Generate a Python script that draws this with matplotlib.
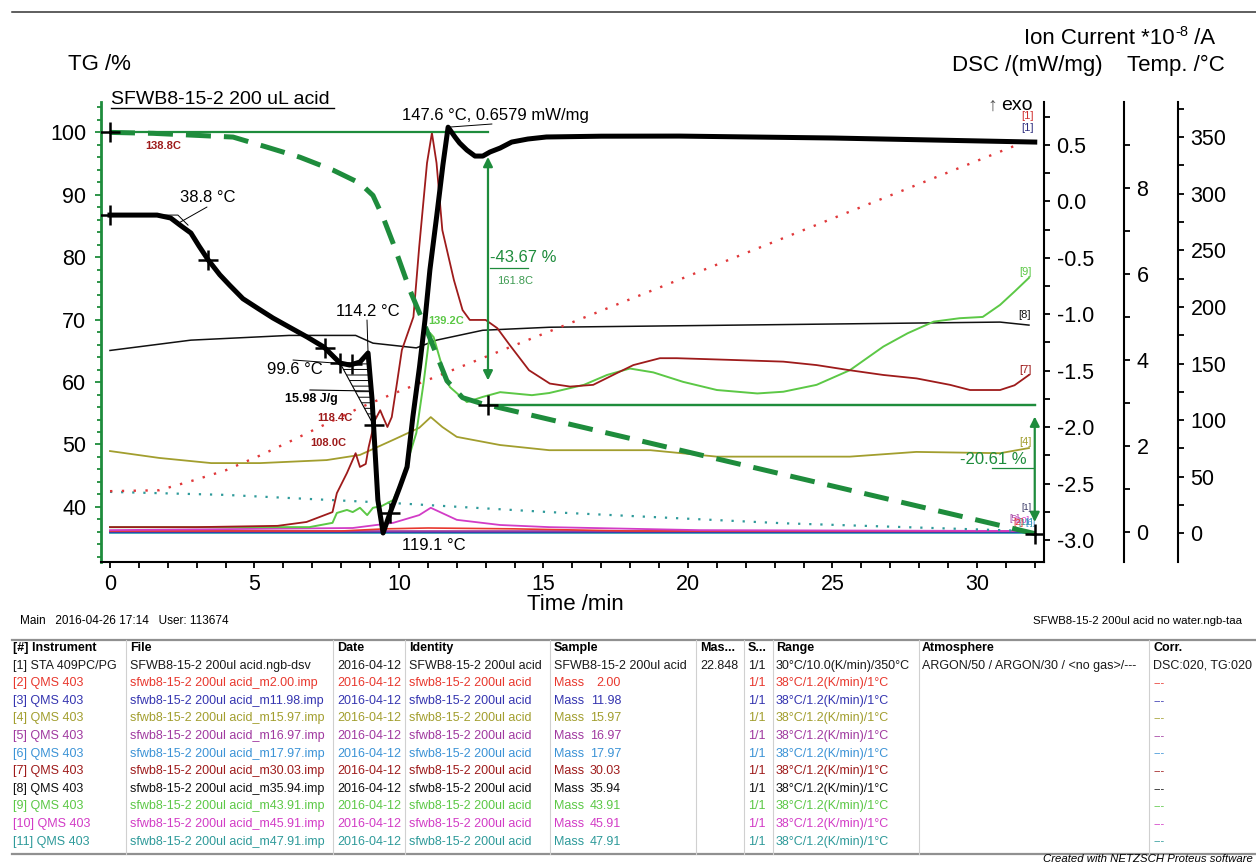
import numpy as np
import matplotlib.pyplot as plt
from matplotlib.lines import Line2D
from matplotlib.patches import Polygon
from matplotlib.ticker import MultipleLocator, FixedLocator, FormatStrFormatter

plt.rcParams['font.family'] = ['Liberation Sans', 'DejaVu Sans']
plt.rcParams['axes.unicode_minus'] = False
plt.rcParams['hatch.linewidth'] = 0.7

W, H = 1256, 865

# ---- TG (%) ----
tg_t = [0, 1.5, 2.66, 4.26, 5.43, 6.57, 7.72, 8.65, 9.1, 9.45, 9.8, 10.38, 10.97, 11.66, 12.2,
        12.9, 13.08, 32.0]
tg = [100, 99.85, 99.6, 99.25, 97.64, 96.03, 93.95, 91.86, 89.9, 86.4, 82.2, 74.7, 68.2, 60.2,
      57.5, 56.5, 56.33, 35.72]
step_t = [0, 13.08, 32.0]
step_dm = [-43.67, -20.61]
step_temp = ['161.8C', '']

# ---- DSC (mW/mg) ----
dsc_t = [0, 1.0, 1.63, 2.1, 2.42, 2.8, 3.08, 3.4, 3.8, 4.15, 4.6, 5.1, 5.64, 6.2, 6.82, 7.4,
         7.96, 8.3, 8.65, 8.93, 9.07, 9.17, 9.27, 9.45, 9.69, 10.03, 10.28, 10.48, 10.71, 10.9,
         11.07, 11.31, 11.52, 11.7, 11.94, 12.1, 12.35, 12.63, 12.9, 13.15, 13.5, 13.9, 14.46,
         15.1, 17.0, 19.7, 25.0, 32.0]
dsc = [-0.121, -0.121, -0.121, -0.147, -0.209, -0.280, -0.395, -0.519, -0.650, -0.745, -0.862,
       -0.945, -1.033, -1.113, -1.201, -1.290, -1.432, -1.450, -1.423, -1.343, -1.759, -2.203,
       -2.646, -2.938, -2.761, -2.53, -2.353, -1.910, -1.467, -1.051, -0.607, -0.121, 0.323,
       0.6579, 0.57, 0.517, 0.455, 0.402, 0.402, 0.438, 0.473, 0.526, 0.553, 0.571, 0.578,
       0.579, 0.562, 0.526]
dsc_marks = [0, 3.4, 7.44, 7.96, 8.37, 9.12, 9.69]
peak_area = (7.96, 9.12)

# ---- furnace temperature (°C) ----
temp_t = [0, 1.7, 2.9, 4.0, 5.2, 6.3, 7.5, 8.65, 9.8, 31.8]
temp = [37.2, 38.0, 46.8, 55.6, 68.8, 82.0, 96.9, 111.0, 123.3, 347.4]

# ---- QMS ion currents (*1e-8 A) ----
ms7_t = [0, 3, 5.8, 6.8, 7.7, 7.85, 8.2, 8.5, 8.65, 8.85, 8.95, 9.17, 9.35, 9.45, 9.6, 9.75,
         9.93, 10.1, 10.5, 10.7, 10.97, 11.14, 11.3, 11.5, 11.9, 12.2, 12.45, 13.0, 13.4, 13.84,
         14.5, 15.22, 15.92, 16.72, 17.53, 18.11, 19.03, 19.61, 21.5, 23.3, 24.45, 25.6, 26.76,
         27.91, 29.07, 29.76, 30.8, 31.3, 31.8]
ms7 = [0.12, 0.12, 0.15, 0.24, 0.47, 0.91, 1.38, 1.84, 1.52, 1.59, 1.98, 2.61, 2.84, 2.68, 2.45,
       2.68, 3.47, 4.24, 5.01, 6.64, 8.59, 9.29, 8.59, 7.03, 5.87, 5.17, 4.94, 4.94, 4.75, 4.35,
       3.77, 3.46, 3.39, 3.43, 3.70, 3.89, 4.05, 4.05, 4.01, 3.97, 3.89, 3.77, 3.66, 3.58, 3.43,
       3.31, 3.31, 3.42, 3.66]
ms9_t = [0, 6.9, 7.7, 7.85, 8.2, 8.4, 8.65, 8.9, 9.1, 9.4, 9.8, 10.1, 10.6, 10.85, 11.07, 11.2,
         11.5, 11.76, 12.35, 12.9, 13.5, 14.6, 15.2, 16.4, 17.2, 17.99, 18.8, 19.83, 21.0, 22.4,
         23.3, 24.45, 25.6, 26.76, 27.6, 28.5, 29.4, 30.2, 30.8, 31.3, 31.8]
ms9 = [0.12, 0.12, 0.22, 0.45, 0.52, 0.47, 0.57, 0.40, 0.57, 0.61, 0.75, 1.22, 2.31, 3.47, 4.64,
       4.54, 3.84, 3.38, 3.03, 3.15, 3.26, 3.19, 3.24, 3.43, 3.66, 3.81, 3.72, 3.50, 3.31, 3.23,
       3.27, 3.43, 3.77, 4.32, 4.63, 4.90, 4.98, 5.01, 5.29, 5.60, 5.92]
ms4_t = [0, 1.7, 3.5, 5.2, 7.5, 8.65, 9.8, 10.7, 11.1, 11.5, 12.0, 13.5, 15.2, 18.7, 21.0, 25.6,
         27.9, 30.8, 31.8]
ms4 = [1.89, 1.73, 1.61, 1.61, 1.68, 1.80, 2.15, 2.43, 2.68, 2.45, 2.22, 2.03, 1.91, 1.91, 1.76,
       1.76, 1.87, 1.84, 1.96]
ms8_t = [0, 2.8, 6.2, 8.5, 9.1, 10.6, 11.3, 12.9, 15.2, 30.8, 31.8]
ms8 = [4.23, 4.47, 4.58, 4.58, 4.40, 4.29, 4.47, 4.70, 4.77, 4.89, 4.82]
ms10_t = [0, 8.4, 9.8, 10.7, 11.1, 12.0, 13.5, 15.2, 20.4, 31.8]
ms10 = [0.05, 0.10, 0.22, 0.40, 0.57, 0.29, 0.17, 0.12, 0.05, 0.03]
ms11_t = [0, 4.0, 9.8, 15.2, 23.3, 30.8, 31.8]
ms11 = [0.94, 0.87, 0.68, 0.47, 0.21, 0.05, 0.03]
ms2_t = [0, 8.0, 9.5, 11.0, 14.0, 18.0, 31.8]
ms2 = [0.03, 0.03, 0.08, 0.10, 0.08, 0.03, 0.03]
flat_t = [0, 31.8]
ms3 = [0.01, 0.01]
ms5 = [0.03, 0.03]
ms6 = [-0.02, -0.02]

masses = ['2.00', '11.98', '15.97', '16.97', '17.97', '30.03', '35.94', '43.91', '45.91', '47.91']
colors = {1: '#1a1a1a', 2: '#e8382e', 3: '#3535b0', 4: '#a29e2e', 5: '#a03aa0', 6: '#3c93d6',
          7: '#9e1b1b', 8: '#111111', 9: '#5cc846', 10: '#d23cc6', 11: '#2e9a9a'}
green = '#1e8c3c'

fig = plt.figure(figsize=(W / 100, H / 100), dpi=100)


def ftext(x, y, s, **kw):
    kw.setdefault('va', 'center')
    return fig.text(x / W, 1 - y / H, s, **kw)


def fline(xs, ys, **kw):
    fig.add_artist(Line2D([x / W for x in xs], [1 - y / H for y in ys],
                          transform=fig.transFigure, **kw))


L, R, T, B = 101, 1044, 102, 562
ax = fig.add_axes([L / W, 1 - B / H, (R - L) / W, (B - T) / H])
ax_dsc = ax.twinx()
ax_ion = ax.twinx()
ax_tmp = ax.twinx()
ax_ion.set_zorder(1)
ax_tmp.set_zorder(2)
ax.set_zorder(3)
ax_dsc.set_zorder(4)
ax.patch.set_visible(False)

ax.set_xlim(-0.311, 32.32)
ax.set_ylim(31.17, 104.87)
ax_dsc.set_ylim(-3.195, 0.881)
ax_ion.set_ylim(-0.691, 10.01)
ax_tmp.set_ylim(-25.4, 381.1)

for a in (ax_dsc, ax_ion, ax_tmp):
    for s in ('left', 'top', 'bottom'):
        a.spines[s].set_visible(False)
    a.spines['right'].set_linewidth(1.5)
ax.spines['top'].set_visible(False)
ax.spines['right'].set_visible(False)
ax.spines['left'].set_color(green)
ax.spines['left'].set_linewidth(2)
ax.spines['bottom'].set_linewidth(1.5)
ax_ion.spines['right'].set_position(('axes', (1124 - L) / (R - L)))
ax_tmp.spines['right'].set_position(('axes', (1178 - L) / (R - L)))

ax.xaxis.set_major_locator(MultipleLocator(5))
ax.xaxis.set_minor_locator(MultipleLocator(1))
ax.yaxis.set_major_locator(MultipleLocator(10))
ax.yaxis.set_minor_locator(MultipleLocator(2))
ax_dsc.yaxis.set_major_locator(MultipleLocator(0.5))
ax_dsc.yaxis.set_minor_locator(MultipleLocator(0.25))
ax_dsc.yaxis.set_major_formatter(FormatStrFormatter('%.1f'))
ax_ion.yaxis.set_major_locator(FixedLocator([0, 2, 4, 6, 8]))
ax_ion.yaxis.set_minor_locator(FixedLocator([1, 3, 5, 7, 9]))
ax_tmp.yaxis.set_major_locator(MultipleLocator(50))
ax_tmp.yaxis.set_minor_locator(FixedLocator(np.arange(25, 400, 50)))

ax.tick_params(axis='x', which='both', length=4, width=1.3, labelsize=15.5, pad=5)
ax.tick_params(axis='y', which='major', length=4.5, width=1.3, color=green, labelsize=15.5, pad=6)
ax.tick_params(axis='y', which='minor', length=3, width=1.3, color=green)
for a in (ax_dsc, ax_ion, ax_tmp):
    a.tick_params(axis='y', which='major', length=4, width=1.3, labelsize=15.5, pad=5)
    a.tick_params(axis='y', which='minor', length=4, width=1.3)

# ion currents
ax_ion.plot(flat_t, ms6, color='#3aa0b0', lw=1.3)
ax_ion.plot(flat_t, ms3, color=colors[3], lw=1.3)
ax_ion.plot(flat_t, ms5, color=colors[5], lw=1.2)
ax_ion.plot(ms2_t, ms2, color=colors[2], lw=1.2)
ax_ion.plot(ms10_t, ms10, color=colors[10], lw=1.3)
ax_ion.plot(ms11_t, ms11, color=colors[11], lw=1.6, ls=(0, (1, 4)))
ax_ion.plot(ms4_t, ms4, color=colors[4], lw=1.3)
ax_ion.plot(ms8_t, ms8, color=colors[8], lw=1.1)
ax_ion.plot(ms9_t, ms9, color=colors[9], lw=1.4)
ax_ion.plot(ms7_t, ms7, color=colors[7], lw=1.3)
for n, tt, vv, dx, dy in [(8, ms8_t, ms8, -4, 10), (7, ms7_t, ms7, -4, 5), (4, ms4_t, ms4, -4, 6),
                          (9, ms9_t, ms9, -4, 6)]:
    ax_ion.annotate(f'[{n}]', xy=(tt[-1], vv[-1]), xytext=(dx, dy), textcoords='offset pixels',
                    ha='center', va='center', fontsize=8, color=colors[n])
# crowded end labels of the flat traces
for n, tt, vv, dx, dy in [(5, flat_t, ms5, -15, 13), (10, ms10_t, ms10, -7, 11),
                          (11, ms11_t, ms11, -3, 9), (6, flat_t, ms6, 2, 11),
                          (2, ms2_t, ms2, -11, 9)]:
    ax_ion.annotate(f'[{n}]', xy=(tt[-1], vv[-1]), xytext=(dx, dy), textcoords='offset pixels',
                    ha='center', va='center', fontsize=6.5, color=colors[n])

# temperature
ax_tmp.plot(temp_t, temp, color='#e0383a', lw=1.7, ls=(0, (1, 4)))

# TG with mass steps
ax.plot(tg_t, tg, color=green, lw=3.6, ls=(0, (5, 2.6)), dash_capstyle='butt')
step_lv = 100 + np.concatenate([[0], np.cumsum(step_dm)])
ax.plot(step_t, step_lv, '+', color='k', ms=15, mew=1.8, zorder=5)
for i, dm in enumerate(step_dm):
    t0, t1 = step_t[i], step_t[i + 1]
    hi, lo = step_lv[i], step_lv[i + 1]
    ax.plot([t0, t1], [hi, hi], color=green, lw=1.6)
    m = 0.09 * (hi - lo)
    ax.annotate('', xy=(t1, lo + m), xytext=(t1, hi - m),
                arrowprops=dict(arrowstyle='<|-|>', color=green, lw=1.6, mutation_scale=14,
                                shrinkA=0, shrinkB=0))
ax.plot([step_t[1], step_t[2]], [step_lv[1], step_lv[1]], color=green, lw=1.6)
ftext(490, 258, f'{step_dm[0]:.2f} %', fontsize=12, color=green)
fline([490, 528], [268, 268], color=green, lw=0.9)
ftext(497, 281, step_temp[0], fontsize=8, color='#3c9a50')
ftext(960, 460, f'{step_dm[1]:.2f} %', fontsize=12, color=green)
fline([992, 1033], [468, 468], color=green, lw=0.9)

# DSC
dsc_t_a = np.array(dsc_t)
dsc_a = np.array(dsc)
ax_dsc.plot(dsc_t, dsc, color='k', lw=3.6, solid_joinstyle='round', zorder=3)
ta, tb = peak_area
inner = (dsc_t_a > ta) & (dsc_t_a < tb)
pt = np.concatenate([[ta], dsc_t_a[inner], [tb]])
pv = np.interp(pt, dsc_t_a, dsc_a)
ax_dsc.add_patch(Polygon(np.column_stack([pt, pv]), closed=True, facecolor='none',
                         edgecolor='k', hatch='---', lw=0.8, zorder=2))
ax_dsc.plot(dsc_marks, np.interp(dsc_marks, dsc_t_a, dsc_a), '+', color='k', ms=15, mew=1.8, zorder=4)

# onset tangent at the start of the first endotherm
onset_t = 2.35
ax_dsc.plot([1.7, onset_t, 2.7], [dsc[0], dsc[0], -0.21], color='k', lw=0.7, zorder=4)


def leader(t, px, py):
    ax_dsc.annotate('', xy=(t, np.interp(t, dsc_t_a, dsc_a)), xytext=(px, H - py),
                    textcoords='figure pixels',
                    arrowprops=dict(arrowstyle='-', color='k', lw=0.7, shrinkA=0, shrinkB=0))


leader(onset_t, 207, 207)
ftext(180, 197, '38.8 °C', fontsize=12)
leader(8.06, 293, 360)
ftext(267, 369, '99.6 °C', fontsize=12)
leader(8.93, 367, 320)
ftext(368, 311, '114.2 °C', fontsize=12, ha='center')
fline([310, 370], [390, 391], color='k', lw=0.8)
ftext(285, 399, '15.98 J/g', fontsize=9, fontweight='bold')
ftext(402, 545, '119.1 °C', fontsize=12)
leader(11.7, 492, 124)
ftext(495, 116, '147.6 °C, 0.6579 mW/mg', fontsize=12, ha='center')
ftext(992, 106, '↑', fontsize=14, color='#555555', ha='center')
ftext(1001, 106, 'exo', fontsize=14)
ftext(1027, 116, '[1]', fontsize=8, color='#d03030', ha='center')
ftext(1027, 128, '[1]', fontsize=8, color='#303080', ha='center')
ftext(1026, 508, '[1]', fontsize=6.5, color='#303060', ha='center')

# QMS peak temperatures
ftext(163, 146, '138.8C', fontsize=8, fontweight='bold', color=colors[7], ha='center')
ftext(317, 418, '118.4C', fontsize=8, fontweight='bold', color=colors[7])
ftext(310, 443, '108.0C', fontsize=8, fontweight='bold', color=colors[7])
ftext(428, 321, '139.2C', fontsize=8, fontweight='bold', color=colors[9])

# titles and axis captions
ftext(111, 100, 'SFWB8-15-2 200 uL acid', fontsize=14)
fline([111, 334], [108, 108], color='k', lw=1)
ftext(68, 65, 'TG /%', fontsize=16)
# "Ion Current *10^-8 /A", built right to left so the exponent sits raised and small
renderer = fig.canvas.get_renderer()
t_unit = ftext(1215, 38, ' /A', fontsize=16, ha='right')
x_unit = t_unit.get_window_extent(renderer).x0
t_exp = ftext(x_unit, 32, '-8', fontsize=10.5, ha='right')
x_exp = t_exp.get_window_extent(renderer).x0
ftext(x_exp, 38, 'Ion Current *10', fontsize=16, ha='right')
ftext(952, 65, 'DSC /(mW/mg)', fontsize=16)
ftext(1127, 65, 'Temp. /°C', fontsize=16)
ftext(575, 605, 'Time /min', fontsize=16, ha='center')
fline([12, W], [11.5, 11.5], color='#333333', lw=1.1)
ftext(20, 621, 'Main   2016-04-26 17:14   User: 113674', fontsize=8.5)
ftext(1242, 621, 'SFWB8-15-2 200ul acid no water.ngb-taa', fontsize=8.2, ha='right')
ftext(1253, 859, 'Created with NETZSCH Proteus software', fontsize=8.2, ha='right', style='italic')

# file table
col_x = [13, 130, 337, 409, 554, 700, 748, 776, 922, 1153]
col_sep = [126, 333, 405, 550, 696, 744, 773, 919, 1149]
headers = ['[#] Instrument', 'File', 'Date', 'Identity', 'Sample', 'Mas...', 'S...', 'Range',
           'Atmosphere', 'Corr.']
row_y0, row_dy = 648, 17.6
tbl_top, tbl_bot = 640, 854
fline([12, W], [tbl_top, tbl_top], color='#909090', lw=1.6)
fline([12, W], [tbl_bot, tbl_bot], color='#909090', lw=1.6)
for x in col_sep:
    fline([x, x], [tbl_top, tbl_bot], color='#d0d0d0', lw=0.8)
for x, h in zip(col_x, headers):
    ftext(x, row_y0, h, fontsize=9, fontweight='bold')
row1 = ['[1] STA 409PC/PG', 'SFWB8-15-2 200ul acid.ngb-dsv', '2016-04-12', 'SFWB8-15-2 200ul acid',
        'SFWB8-15-2 200ul acid', '22.848', '1/1', '30°C/10.0(K/min)/350°C',
        'ARGON/50 / ARGON/30 / <no gas>/---', 'DSC:020, TG:020']
for x, s in zip(col_x, row1):
    ftext(x, row_y0 + row_dy, s, fontsize=9, color=colors[1])
for i, mass in enumerate(masses):
    n = i + 2
    y = row_y0 + row_dy * (i + 2)
    c = colors[n]
    cells = [f'[{n}] QMS 403', f'sfwb8-15-2 200ul acid_m{mass}.imp', '2016-04-12',
             'sfwb8-15-2 200ul acid']
    for x, s in zip(col_x[:4], cells):
        ftext(x, y, s, fontsize=9, color=c)
    ftext(col_x[4], y, 'Mass', fontsize=9, color=c)
    ftext(621, y, mass, fontsize=9, color=c, ha='right')
    ftext(col_x[6], y, '1/1', fontsize=9, color=c)
    ftext(col_x[7], y, '38°C/1.2(K/min)/1°C', fontsize=9, color=c)
    ftext(col_x[9], y, '---', fontsize=8, color=c)

fig.savefig('out.png', dpi=100)
